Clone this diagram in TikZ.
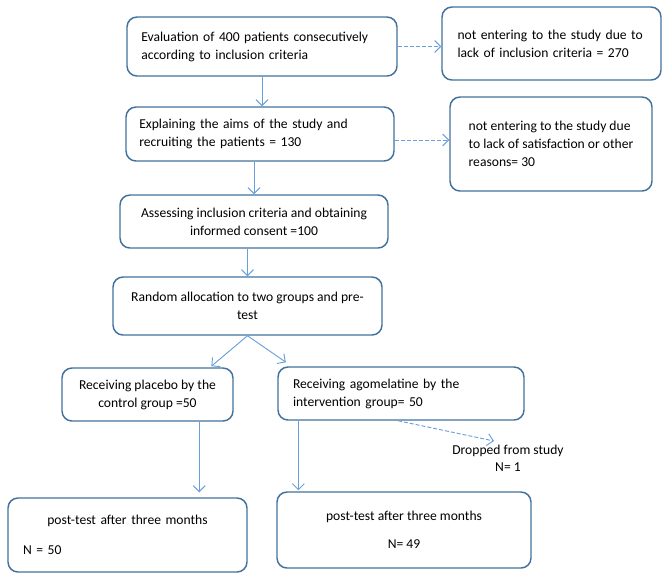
\documentclass[tikz,border=0pt]{standalone}
\usepackage{fontspec}
\setmainfont{Carlito}
\usetikzlibrary{calc,arrows.meta}
\definecolor{boxblue}{RGB}{65,113,156}
\definecolor{linkblue}{RGB}{105,160,220}

\begin{document}
\begin{tikzpicture}[x=0.75pt, y=-0.75pt,
	box/.style={draw=boxblue, line width=1.1pt, rounded corners=7.5pt, inner sep=0pt, font=\fontsize{10.2}{13.5}\selectfont},
	link/.style={draw=linkblue, line width=0.7pt, -{Straight Barb[length=4.5pt,width=9pt]}},
	dashlink/.style={link, dash pattern=on 3pt off 1.5pt}]
			%%%%% START %%%%%
			
			\useasboundingbox (0, 0) rectangle (669, 587);
			
			\node[box, minimum width=202.5pt, minimum height=44.25pt, text width=181pt, align=left] (eval) at (262, 46.5) {Evaluation of 400 patients consecutively\\according to inclusion criteria};
			\node[box, minimum width=164.25pt, minimum height=54.75pt, text width=141pt, align=left] (excl1) at (551.5, 43.5) {not entering to the study due to\\lack of inclusion criteria = 270};
			
			\node[box, minimum width=201pt, minimum height=40.5pt, text width=181pt, align=left] (recruit) at (260, 134) {Explaining the aims of the study and\\recruiting the patients = 130};
			\node[box, minimum width=151.5pt, minimum height=70.5pt, align=left] (excl2) at (551, 144) {not entering to the study due\\to lack of satisfaction or other\\reasons= 30};
			
			\node[box, minimum width=201pt, minimum height=39.75pt, align=center] (consent) at (254, 221.5) {Assessing inclusion criteria and obtaining\\informed consent =100};
			\node[box, minimum width=201.75pt, minimum height=43.5pt, align=center] (alloc) at (247.5, 306) {Random allocation to two groups and pre-\\test};
			
			\node[box, minimum width=128.25pt, minimum height=39.75pt, align=center] (placebo) at (147.5, 394.5) {Receiving placebo by the\\control group =50};
			\node[box, minimum width=184.5pt, minimum height=39.75pt, text width=162pt, align=left] (agomel) at (401, 393.5) {Receiving agomelatine by the\\intervention group= 50};
			\node[font=\fontsize{10.2}{12.75}\selectfont, align=center, inner sep=0pt] (dropped) at (508, 458.5) {Dropped from study\\N= 1};
			
			\node[box, minimum width=179.25pt, minimum height=55.5pt, text width=156.75pt, align=left] (post1) at (127.5, 535) {\makebox[\linewidth]{post-test after three months}\\[9pt]N = 50};
			\node[box, minimum width=190.5pt, minimum height=57pt, align=center] (post2) at (404, 530) {post-test after three months\\[7.5pt]N= 49};
			
			\draw[link] (eval.south) -- (eval.south |- recruit.north);
			\draw[link] (consent.north |- recruit.south) -- (consent.north);
			\draw[link] (alloc.north |- consent.south) -- (alloc.north);
			
			\draw[dashlink] (eval.east) -- (eval.east -| excl1.west);
			\coordinate (r2out) at ($(recruit.east)+(0, 6)$);
			\draw[dashlink] (r2out) -- (r2out -| excl2.west);
			
			\draw[link] (alloc.south) -- ($(placebo.north west)!0.87!(placebo.north east)+(0, -1)$);
			\draw[link] (alloc.south) -- ($(agomel.north west)!0.035!(agomel.north east)+(0, -4)$);
			
			\coordinate (p1out) at ($(placebo.south west)!0.8!(placebo.south east)$);
			\draw[link] (p1out) -- ($(p1out |- post1.north)+(0, -5)$);
			\coordinate (p2out) at ($(agomel.south west)!0.085!(agomel.south east)$);
			\draw[link] (p2out) -- ($(p2out |- post2.north)+(0, -1)$);
			
			\draw[dashlink] ($(agomel.south)+(-3, 0)$) -- ($(dropped.north)+(-14, -4)$);
			
			%%%%% END %%%%%
		\end{tikzpicture}
\end{document}
